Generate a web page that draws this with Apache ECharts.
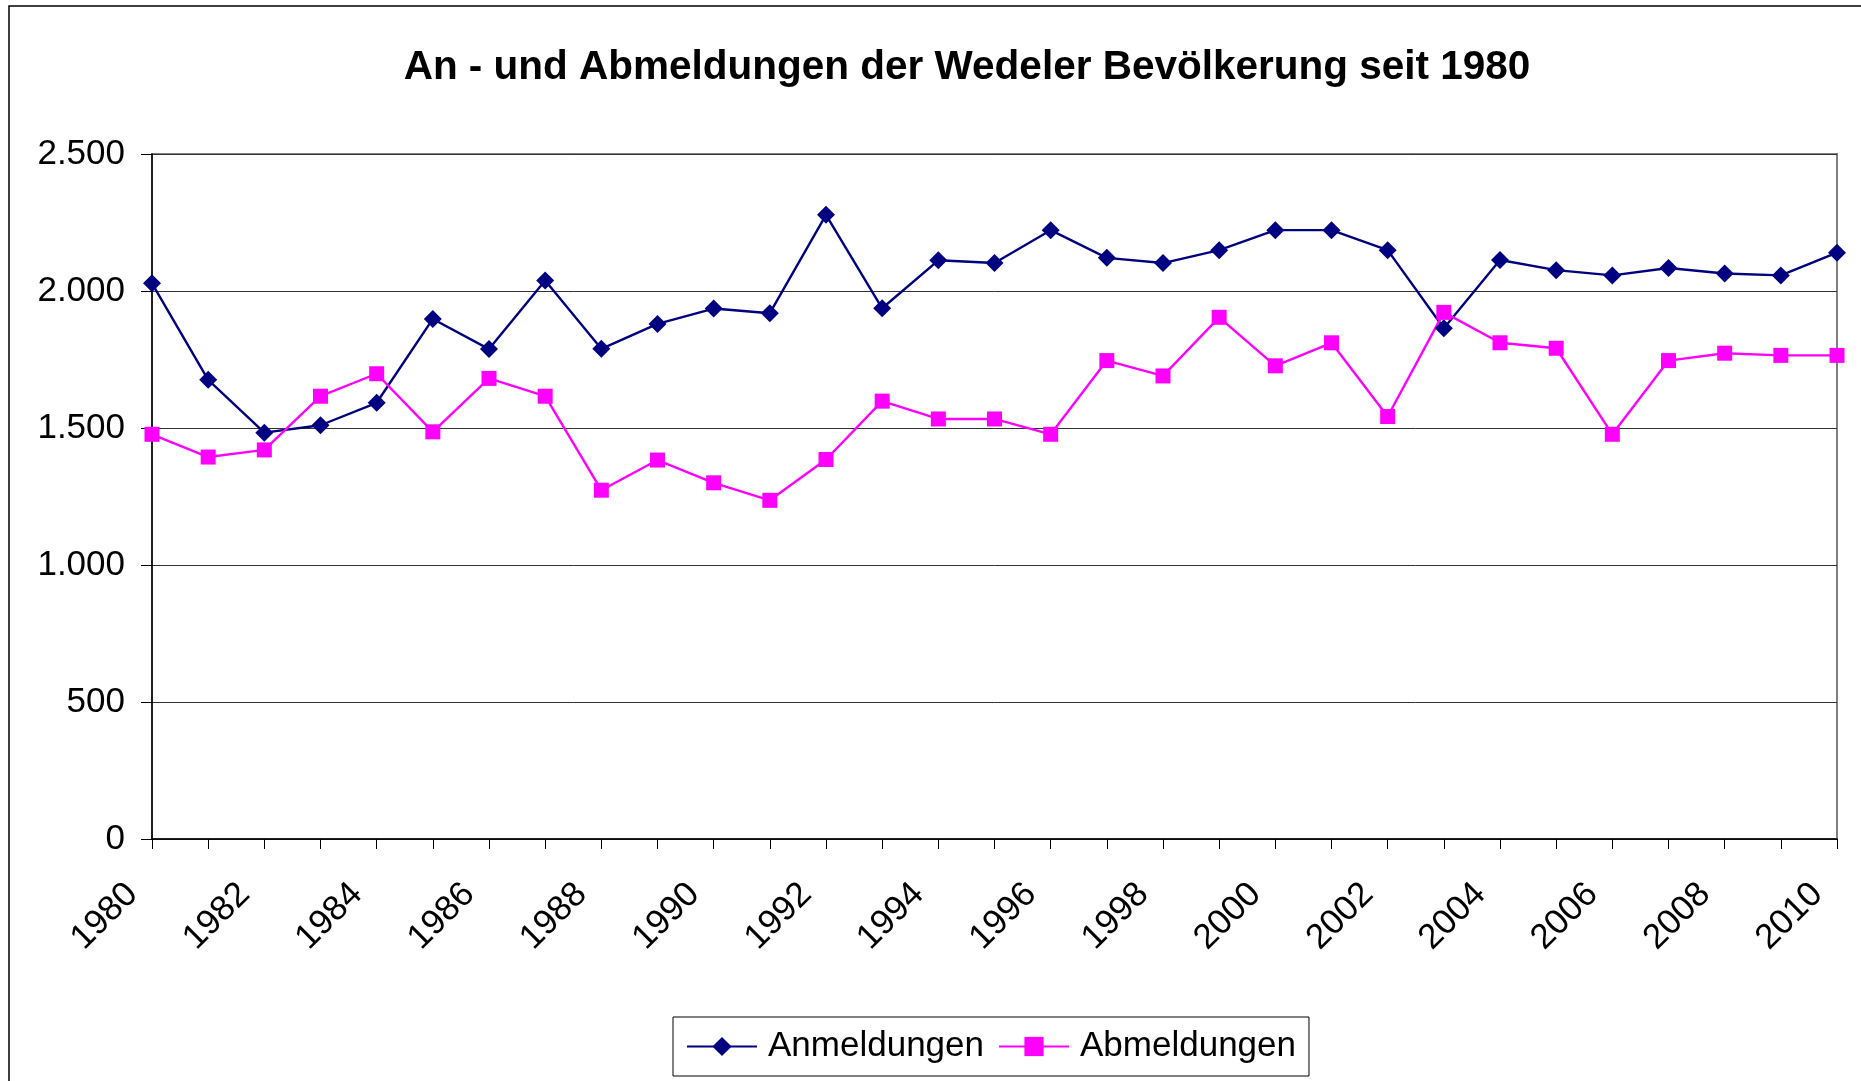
<!DOCTYPE html>
<html>
<head>
<meta charset="utf-8">
<title>An - und Abmeldungen</title>
<script src="https://cdn.jsdelivr.net/npm/echarts@6/dist/echarts.min.js"></script>
<style>
  html, body { margin: 0; padding: 0; background: #fff; }
  #chart { width: 1861px; height: 1081px; }
</style>
</head>
<body>
<div id="chart"></div>
<script>
// Jahre auf der x-Achse
var years = ['1980','1981','1982','1983','1984','1985','1986','1987','1988','1989',
             '1990','1991','1992','1993','1994','1995','1996','1997','1998','1999',
             '2000','2001','2002','2003','2004','2005','2006','2007','2008','2009','2010'];

// Anmeldungen (Zuzüge)
var anmeldungen = [2028,1676,1483,1510,1592,1898,1788,2038,1789,1880,
                   1936,1919,2278,1937,2112,2102,2222,2121,2102,2149,
                   2222,2222,2149,1864,2113,2076,2057,2084,2064,2057,2140];

// Abmeldungen (Fortzüge)
var abmeldungen = [1477,1394,1420,1616,1698,1486,1681,1616,1273,1383,
                   1300,1236,1385,1598,1533,1533,1477,1746,1690,1904,
                   1727,1811,1542,1922,1811,1791,1477,1746,1773,1765,1765];

var titleText = 'An - und Abmeldungen der Wedeler Bevölkerung seit 1980';
var seriesNames = ['Anmeldungen', 'Abmeldungen'];

var font = '"Liberation Sans", Arial, sans-serif';

function fmt(v) {
    // 2500 -> 2.500
    return String(v).replace(/\B(?=(\d{3})+(?!\d))/g, '.');
}

var chart = echarts.init(document.getElementById('chart'));

var option = {
    backgroundColor: '#fff',
    animation: false,
    textStyle: { fontFamily: font },
    title: {
        text: titleText,
        left: 962,
        textAlign: 'center',
        top: 42,
        textStyle: { fontFamily: font, fontSize: 40.5, fontWeight: 'bold', color: '#000' }
    },
    legend: {
        data: seriesNames,
        left: 673,
        top: 1017,
        orient: 'horizontal',
        borderColor: '#000',
        borderWidth: 1,
        padding: [12, 13, 12, 13],
        itemGap: 14,
        itemWidth: 70,
        itemHeight: 24,
        textStyle: { fontFamily: font, fontSize: 35, color: '#000', padding: [0, 0, 0, 6] }
    },
    grid: {
        left: 152,
        right: 24,
        top: 154,
        bottom: 242,
        show: true,
        borderColor: '#808080',
        borderWidth: 2
    },
    xAxis: {
        type: 'category',
        data: years,
        boundaryGap: false,
        axisLine: { lineStyle: { color: '#000', width: 1.5 } },
        axisTick: { show: true, interval: 0, length: 10, lineStyle: { color: '#000' } },
        axisLabel: {
            interval: 1,
            rotate: 45,
            margin: 30,
            padding: [0, 28, 0, 0],
            fontFamily: font,
            fontSize: 35,
            color: '#000'
        },
        splitLine: { show: false }
    },
    yAxis: {
        type: 'value',
        min: 0,
        max: 2500,
        interval: 500,
        axisLine: { show: true, lineStyle: { color: '#000', width: 1.5 } },
        axisTick: { show: true, length: 11, lineStyle: { color: '#000' } },
        axisLabel: {
            margin: 27,
            fontFamily: font,
            fontSize: 35,
            color: '#000',
            formatter: fmt
        },
        splitLine: { show: true, lineStyle: { color: '#333', width: 1 } }
    },
    graphic: [
        {
            // Rahmen des Diagrammbereichs (rechts und unten abgeschnitten)
            type: 'rect',
            shape: { x: 9, y: 6, width: 2000, height: 2000 },
            style: { fill: 'none', stroke: '#000', lineWidth: 1.5 },
            silent: true
        }
    ],
    series: [
        {
            name: seriesNames[0],
            type: 'line',
            data: anmeldungen,
            symbol: 'diamond',
            symbolSize: 18,
            lineStyle: { color: '#000080', width: 2.4 },
            itemStyle: { color: '#000080' }
        },
        {
            name: seriesNames[1],
            type: 'line',
            data: abmeldungen,
            symbol: 'rect',
            symbolSize: 15,
            lineStyle: { color: '#ff00ff', width: 2.4 },
            itemStyle: { color: '#ff00ff' }
        }
    ]
};

chart.setOption(option);
</script>
</body>
</html>
